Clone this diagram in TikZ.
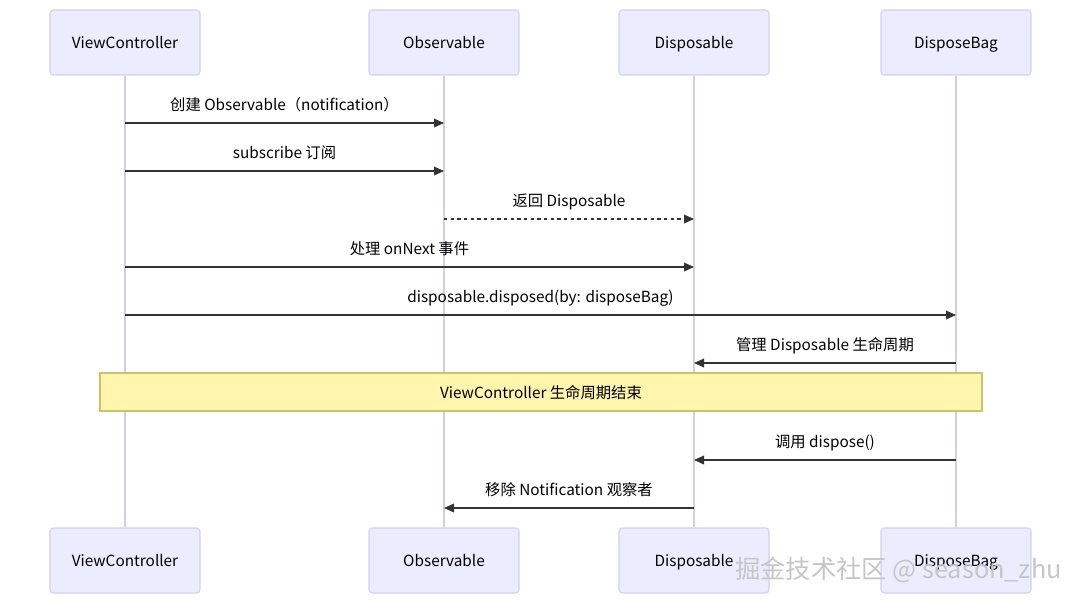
\documentclass[tikz,border=0pt]{standalone}
\usepackage{fontspec}
\setmainfont{Noto Sans CJK SC}
\usetikzlibrary{arrows.meta}
\definecolor{actfill}{HTML}{ECECFF}
\definecolor{actline}{HTML}{D4D0F0}
\definecolor{lifeline}{HTML}{D2CEEA}
\definecolor{msgline}{HTML}{333333}
\definecolor{notefill}{HTML}{FFF5AD}
\definecolor{noteline}{HTML}{C9C46A}
\tikzset{every node/.style={font=\fontsize{11.5}{13}\selectfont, text=black, inner sep=0pt,
    text height=10pt, text depth=1pt},
  actor/.style={draw=actline, fill=actfill, line width=0.8pt, rounded corners=2.5pt,
    minimum width=112.5pt, minimum height=48.75pt},
  life/.style={draw=lifeline, line width=1pt},
  msg/.style={draw=msgline, line width=1pt, -{Triangle[length=7.5pt,width=6.5pt]}},
  reply/.style={msg, dash pattern=on 2.5pt off 2.5pt},
  lbl/.style={midway, yshift=14.25pt},
  note/.style={draw=noteline, fill=notefill, line width=0.8pt,
    minimum width=661.5pt, minimum height=28.5pt},
  wmark/.style={font=\fontsize{19}{22}\selectfont, text=gray!45, text height=14pt, text depth=4pt}}

\begin{document}
\begin{tikzpicture}[x=0.75pt,y=-0.75pt]
  \useasboundingbox (0,0) rectangle (1082,604);
  \node[actor] (vct)  at ( 125, 42.5) {ViewController};
  \node[actor] (obst) at ( 444, 42.5) {Observable};
  \node[actor] (dist) at ( 694, 42.5) {Disposable};
  \node[actor] (bagt) at ( 956, 42.5) {DisposeBag};
  \node[actor] (vcb)  at ( 125,560.5) {ViewController};
  \node[actor] (obsb) at ( 444,560.5) {Observable};
  \node[actor] (disb) at ( 694,560.5) {Disposable};
  \node[actor] (bagb) at ( 956,560.5) {DisposeBag};
  \draw[life] (vct) -- (vcb);
  \draw[life] (obst) -- (obsb);
  \draw[life] (dist) -- (disb);
  \draw[life] (bagt) -- (bagb);

  \draw[msg]   (vct |- 0,123) -- (obst |- 0,123) node[lbl] {创建 Observable（notification）};
  \draw[msg]   (vct |- 0,171) -- (obst |- 0,171) node[lbl] {subscribe 订阅};
  \draw[reply] (obst |- 0,219) -- (dist |- 0,219) node[lbl] {返回 Disposable};
  \draw[msg]   (vct |- 0,267) -- (dist |- 0,267) node[lbl] {处理 onNext 事件};
  \draw[msg]   (vct |- 0,315) -- (bagt |- 0,315) node[lbl] {disposable.disposed(by: disposeBag)};
  \draw[msg]   (bagt |- 0,363) -- (dist |- 0,363) node[lbl] {管理 Disposable 生命周期};

  \node[note] (vcend) at (541,392) {ViewController 生命周期结束};

  \draw[msg]   (bagt |- 0,460) -- (dist |- 0,460) node[lbl] {调用 dispose()};
  \draw[msg]   (dist |- 0,508) -- (obst |- 0,508) node[lbl] {移除 Notification 观察者};

  \node[wmark, anchor=east] (wm) at (1062,572) {掘金技术社区 @ season\_zhu};
\end{tikzpicture}
\end{document}
